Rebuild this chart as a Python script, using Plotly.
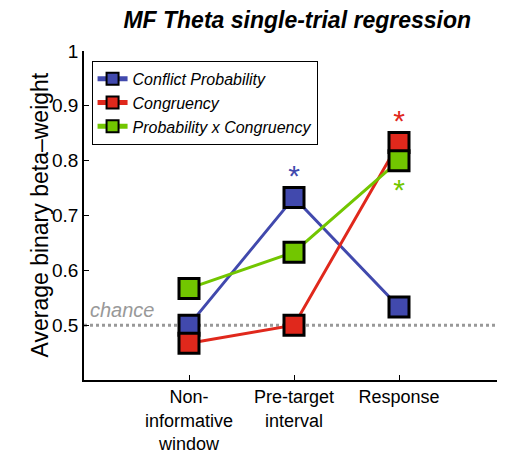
import plotly.graph_objects as go

categories = ["Non-<br>informative<br>window", "Pre-target<br>interval", "Response"]
x_pos = [1, 2, 3]
conflict_prob = [0.50, 0.733, 0.533]
congruency = [0.467, 0.50, 0.833]
prob_x_cong = [0.567, 0.633, 0.80]
star_conflict = [None, 0.768, None]
star_congruency = [None, None, 0.868]
star_interaction = [None, None, 0.742]
chance_level = 0.5
y_ticks = [0.5, 0.6, 0.7, 0.8, 0.9, 1.0]
y_tick_labels = ["0.5", "0.6", "0.7", "0.8", "0.9", "1"]

blue = "#4149ad"
red = "#e0281c"
green = "#72c600"

fig = go.Figure()
series = [
    ("Conflict Probability", conflict_prob, blue),
    ("Congruency", congruency, red),
    ("Probability x Congruency", prob_x_cong, green),
]
for name, vals, col in series:
    fig.add_trace(go.Scatter(
        x=x_pos, y=vals, mode="lines+markers", name=f"<i>{name}</i>",
        line=dict(color=col, width=3),
        marker=dict(symbol="square", size=20, color=col,
                    line=dict(color="black", width=3)),
    ))

for vals, col in [(star_conflict, blue), (star_congruency, red), (star_interaction, green)]:
    fig.add_trace(go.Scatter(
        x=x_pos, y=vals, mode="text", text=["*" if v is not None else "" for v in vals],
        textposition="middle center",
        textfont=dict(color=col, size=30, family="Liberation Sans"),
        showlegend=False, hoverinfo="skip",
    ))

fig.add_shape(type="line", x0=0, x1=4, y0=chance_level, y1=chance_level,
              xref="x", yref="y", line=dict(color="#999999", width=3, dash="dot"),
              layer="below")
fig.add_annotation(x=0.04, y=chance_level, xref="x", yref="y", text="<i>chance</i>",
                   showarrow=False, xanchor="left", yanchor="bottom", yshift=2,
                   font=dict(family="Liberation Sans", size=20, color="#999999"))
fig.add_annotation(x=0, y=0.5, xref="paper", yref="paper", xshift=-45,
                   text="Average binary beta\u2013weight", textangle=-90,
                   showarrow=False, xanchor="center", yanchor="middle",
                   font=dict(family="Liberation Sans", size=23, color="black"))

fig.update_layout(
    width=497, height=447,
    margin=dict(l=76, r=1, t=43, b=75, autoexpand=False),
    paper_bgcolor="white", plot_bgcolor="white",
    font=dict(family="Liberation Sans", color="black"),
    title=dict(text="<b><i>MF Theta single-trial regression</i></b>",
               x=0.582, xanchor="center", y=0.973, yanchor="middle",
               font=dict(size=23, family="Liberation Sans", color="black")),
    showlegend=True,
    legend=dict(x=0.018, y=0.97, xanchor="left", yanchor="top",
                bordercolor="black", borderwidth=1, bgcolor="white",
                font=dict(size=16, family="Liberation Sans"),
                entrywidth=215, entrywidthmode="pixels",
                itemsizing="constant", tracegroupgap=0),
    xaxis=dict(range=[0, 4], tickmode="array", tickvals=x_pos, ticktext=categories,
               showline=True, linecolor="black", linewidth=1.5, ticks="inside",
               ticklen=5, tickcolor="black", showgrid=False, zeroline=False,
               tickfont=dict(size=18), mirror=False, automargin=False),
    yaxis=dict(range=[0.4, 1.0], tickmode="array", tickvals=y_ticks, ticktext=y_tick_labels,
               showline=True, linecolor="black", linewidth=1.5, ticks="inside",
               ticklen=5, tickcolor="black", showgrid=False, zeroline=False,
               tickfont=dict(size=19), automargin=False),
)

fig.write_html("out.html")
